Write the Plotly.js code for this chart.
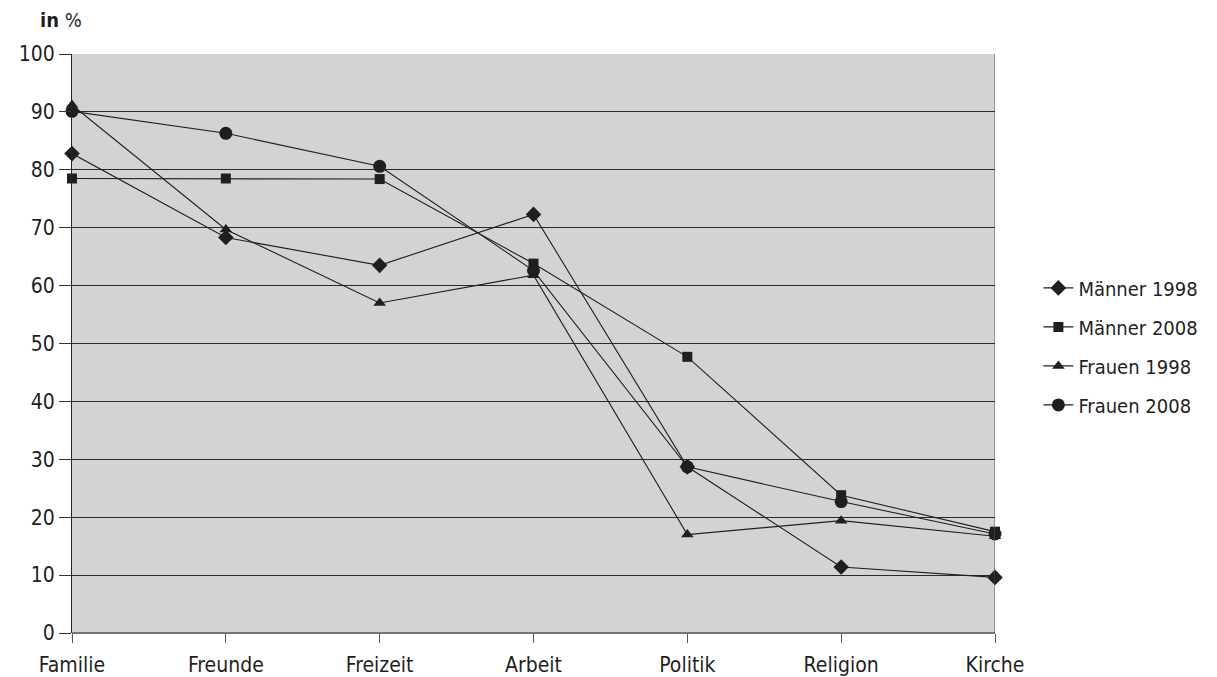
<!DOCTYPE html>
<html>
<head>
<meta charset="utf-8">
<script src="https://cdn.plot.ly/plotly-3.0.1.min.js"></script>
<style>html,body{margin:0;padding:0;background:#fff;}#chart{width:1217px;height:677px;}</style>
</head>
<body>
<div id="chart"></div>
<script>
const categories = ["Familie", "Freunde", "Freizeit", "Arbeit", "Politik", "Religion", "Kirche"];
const maenner1998 = [82.8, 68.3, 63.5, 72.3, 28.7, 11.4, 9.6];
const maenner2008 = [78.5, 78.5, 78.4, 63.8, 47.7, 23.8, 17.5];
const frauen1998 = [91.2, 69.7, 57.0, 61.8, 17.0, 19.4, 16.7];
const frauen2008 = [90.1, 86.3, 80.6, 62.6, 28.7, 22.7, 17.1];
const seriesNames = ["Männer 1998", "Männer 2008", "Frauen 1998", "Frauen 2008"];
const yTicks = [0, 10, 20, 30, 40, 50, 60, 70, 80, 90, 100];

const FONT = "'DejaVu Sans Condensed', 'Liberation Sans Narrow', 'DejaVu Sans', sans-serif";
const ink = "#1f1f1f";
const symbols = ["diamond", "square", "triangle-up", "circle"];
const sizes = [12, 10, 11, 13];
const allSeries = [maenner1998, maenner2008, frauen1998, frauen2008];

const traces = allSeries.map((vals, i) => ({
  type: "scatter",
  mode: "lines+markers",
  x: categories.map((c, k) => k),
  y: vals,
  name: seriesNames[i],
  legendgroup: "g" + i,
  line: {color: ink, width: 1.1},
  marker: {symbol: symbols[i], size: sizes[i], color: ink},
  cliponaxis: false
}));

const layout = {
  width: 1217, height: 677,
  margin: {l: 72, r: 222, t: 54, b: 44},
  paper_bgcolor: "#ffffff",
  plot_bgcolor: "#d2d3d5",
  font: {family: FONT, color: ink, size: 21},
  showlegend: true,
  legend: {
    x: 1.047, xanchor: "left", y: 0.495, yanchor: "middle",
    traceorder: "grouped", tracegroupgap: 10,
    font: {family: FONT, size: 20, color: ink},
    itemwidth: 30, bgcolor: "rgba(0,0,0,0)"
  },
  xaxis: {
    range: [0, 6],
    tickmode: "array",
    tickvals: categories.map((c, k) => k),
    ticktext: categories,
    ticks: "outside", ticklen: 9, tickcolor: "#555", tickwidth: 1,
    ticklabelstandoff: 4,
    showgrid: false, zeroline: false,
    showline: false,
    tickfont: {family: FONT, size: 21, color: ink},
    fixedrange: true
  },
  yaxis: {
    range: [0, 100],
    tickmode: "array",
    tickvals: yTicks,
    ticktext: yTicks.map(String),
    ticks: "outside", ticklen: 12, tickcolor: "#333", tickwidth: 1,
    showgrid: true, gridcolor: "#2a2a2a", gridwidth: 1,
    zeroline: true, zerolinecolor: "#777", zerolinewidth: 2,
    showline: true, linecolor: "#222", linewidth: 1,
    tickfont: {family: FONT, size: 21, color: ink},
    fixedrange: true
  },
  shapes: [
    {type: "line", xref: "x", yref: "paper", x0: 6, x1: 6, y0: 0, y1: 1, line: {color: "#555", width: 1}}
  ],
  annotations: [
    {xref: "paper", yref: "paper", x: -0.037, y: 1.035, xanchor: "left", yanchor: "bottom",
     text: "<b>in</b> %", showarrow: false, font: {family: FONT, size: 20, color: ink}}
  ]
};

Plotly.newPlot("chart", traces, layout, {displayModeBar: false, staticPlot: true});
</script>
</body>
</html>
